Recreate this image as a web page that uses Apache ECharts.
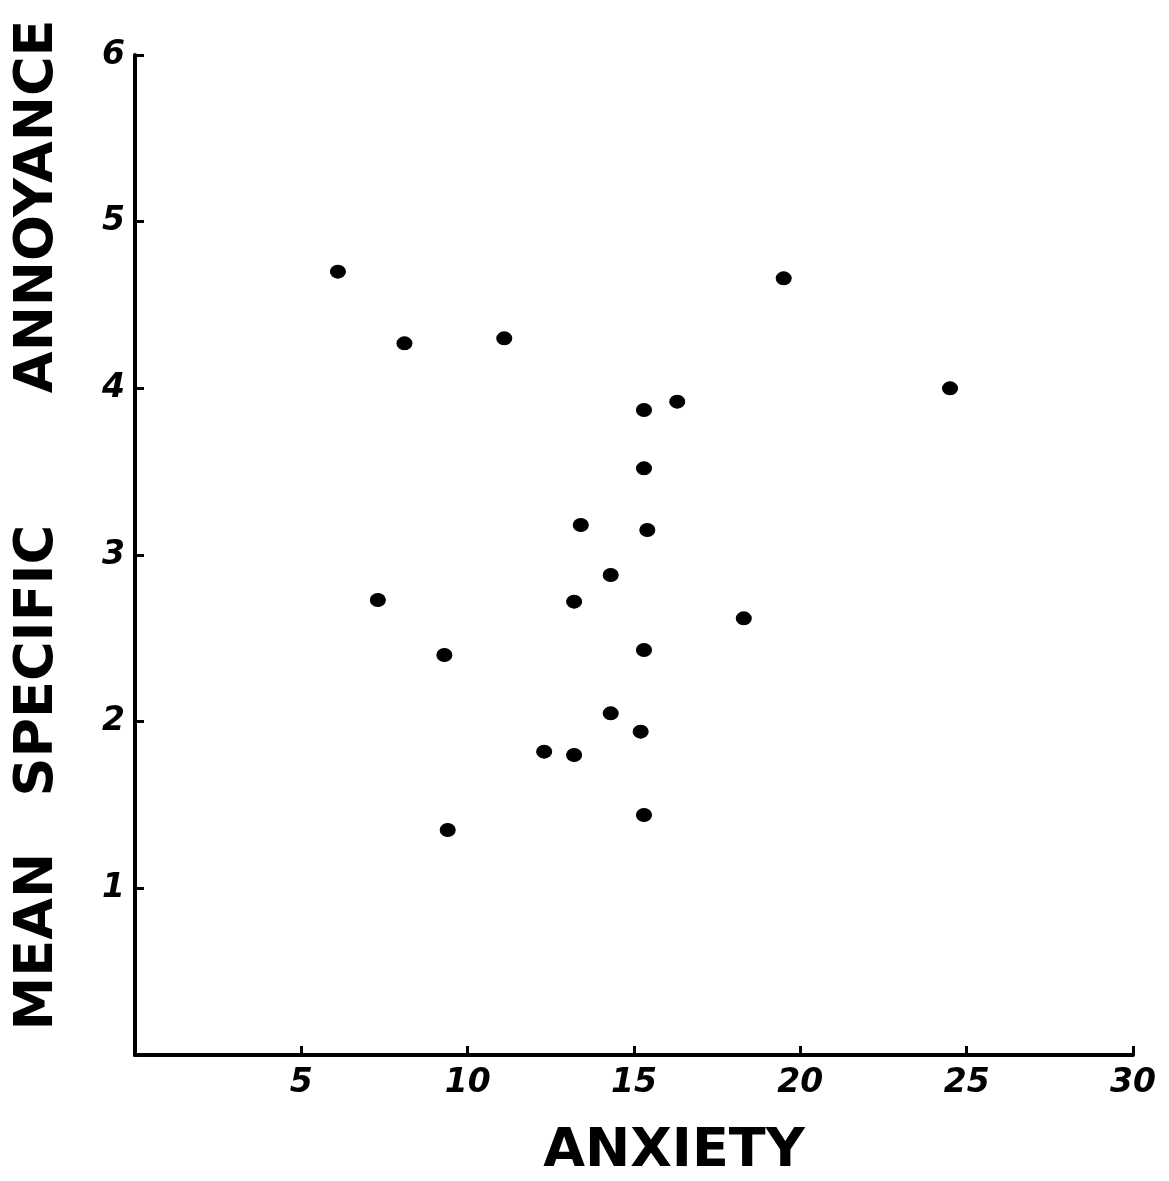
<!DOCTYPE html>
<html>
<head>
<meta charset="utf-8">
<title>Mean specific annoyance vs anxiety</title>
<script src="https://cdn.jsdelivr.net/npm/echarts@6/dist/echarts.min.js"></script>
<style>
  html, body { margin: 0; padding: 0; background: #fff; }
  #chart { width: 1169px; height: 1181px; }
</style>
</head>
<body>
<div id="chart"></div>
<script>
  // values
  const anxiety = [6.1, 8.1, 11.1, 19.5, 24.5, 16.3, 15.3, 15.3, 13.4, 15.4, 7.3,
    14.3, 13.2, 18.3, 9.3, 15.3, 14.3, 15.2, 12.3, 13.2, 9.4, 15.3];
  const annoyance = [4.7, 4.27, 4.3, 4.66, 4.0, 3.92, 3.87, 3.52, 3.18, 3.15, 2.73,
    2.88, 2.72, 2.62, 2.4, 2.43, 2.05, 1.94, 1.82, 1.8, 1.35, 1.44];
  const xTicks = [5, 10, 15, 20, 25, 30];
  const yTicks = [1, 2, 3, 4, 5, 6];

  const points = anxiety.map((x, i) => [x, annoyance[i]]);

  const chart = echarts.init(document.getElementById('chart'), null, { renderer: 'canvas' });

  const labelFont = {
    color: '#000',
    fontFamily: 'DejaVu Sans',
    fontWeight: 'bold',
    fontStyle: 'italic',
    fontSize: 33,
  };

  chart.setOption({
    backgroundColor: '#fff',
    animation: false,
    grid: { left: 135, right: 36, top: 55, bottom: 126, containLabel: false, outerBoundsMode: 'none' },
    xAxis: {
      type: 'value',
      min: 0,
      max: 30,
      interval: 5,
      name: 'ANXIETY',
      nameLocation: 'middle',
      nameGap: 70,
      nameTextStyle: {
        color: '#000',
        fontFamily: 'DejaVu Sans',
        fontWeight: 'bold',
        fontSize: 54,
        padding: [0, 0, 0, 80],
      },
      axisLine: { show: true, lineStyle: { color: '#000', width: 4 } },
      axisTick: { show: true, inside: true, length: 9, lineStyle: { color: '#000', width: 3 } },
      splitLine: { show: false },
      axisLabel: {
        ...labelFont,
        margin: 12,
        formatter: (v) => (xTicks.includes(v) ? String(v) : ''),
      },
    },
    yAxis: {
      type: 'value',
      min: 0,
      max: 6,
      interval: 1,
      name: 'MEAN   SPECIFIC       ANNOYANCE',
      nameLocation: 'middle',
      nameGap: 70,
      nameRotate: 90,
      nameTextStyle: {
        color: '#000',
        fontFamily: 'DejaVu Sans',
        fontWeight: 'bold',
        fontSize: 54,
        padding: [0, 0, 0, 60],
      },
      axisLine: { show: true, lineStyle: { color: '#000', width: 4 } },
      axisTick: { show: true, inside: true, length: 9, lineStyle: { color: '#000', width: 3 } },
      splitLine: { show: false },
      axisLabel: {
        ...labelFont,
        margin: 10,
        formatter: (v) => (yTicks.includes(v) ? String(v) : ''),
      },
    },
    series: [
      {
        type: 'scatter',
        data: points,
        symbol: 'circle',
        symbolSize: [15, 13],
        itemStyle: { color: '#000', opacity: 1, borderColor: '#000', borderWidth: 1 },
      },
    ],
  });
</script>
</body>
</html>
